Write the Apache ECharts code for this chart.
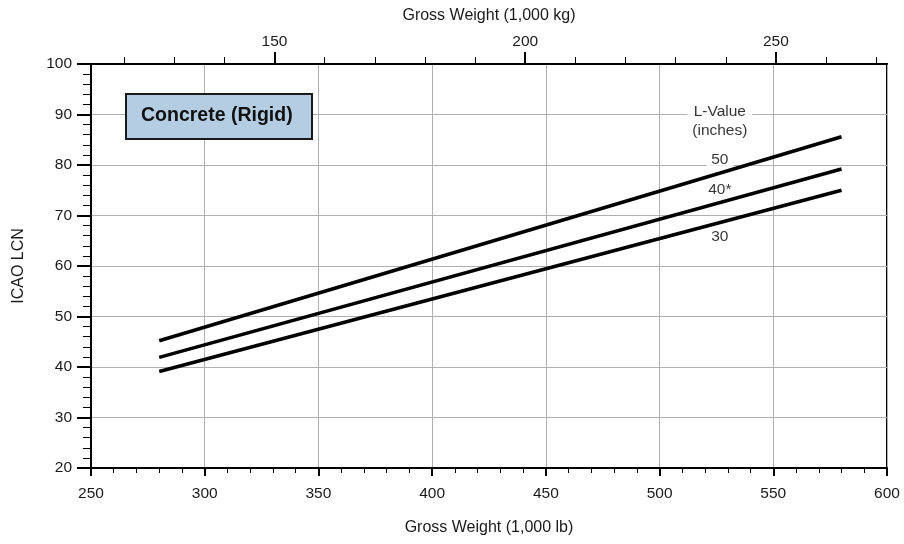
<!DOCTYPE html>
<html>
<head>
<meta charset="utf-8">
<script src="https://cdn.jsdelivr.net/npm/echarts@6/dist/echarts.min.js"></script>
<style>html,body{margin:0;padding:0;background:#fff}#c{width:904px;height:544px}</style>
</head>
<body>
<div id="c"></div>
<script>
// Data (gross weight in 1,000 lb, ICAO LCN)
const weightLb = [280, 580];
const lcn50 = [45.2, 85.6];
const lcn40 = [41.9, 79.2];
const lcn30 = [39.1, 75.0];
const LB_TO_KG = 0.45359237;
const xMinLb = 250, xMaxLb = 600;
const topMajorKg = [150, 200, 250];
const topMinorKg = [120, 130, 140, 160, 170, 180, 190, 210, 220, 230, 240, 260, 270];
const lineLabels = [
  { name: 'L-Value\n(inches)', x: 526.5, y: 88.7 },
  { name: '50', x: 526.5, y: 81.0 },
  { name: '40*', x: 526.5, y: 75.2 },
  { name: '30', x: 526.5, y: 65.8 }
];
const titleText = 'Concrete (Rigid)';

const FONT = '"Liberation Sans", Arial, sans-serif';
const TXT = '#1a1a1a';
const chart = echarts.init(document.getElementById('c'), null, { renderer: 'canvas' });

function lineData(vals) { return weightLb.map((w, i) => [w, vals[i]]); }
const lineStyle = { color: '#000', width: 3.5 };

chart.setOption({
  backgroundColor: '#fff',
  animation: false,
  textStyle: { fontFamily: FONT },
  grid: { left: 91, right: 17, top: 64, bottom: 76, show: true, borderColor: '#000', borderWidth: 2, backgroundColor: 'transparent' },
  xAxis: [
    {
      type: 'value', position: 'bottom', min: xMinLb, max: xMaxLb, interval: 50,
      name: 'Gross Weight (1,000 lb)', nameLocation: 'middle', nameGap: 52,
      nameTextStyle: { fontSize: 16, color: TXT, fontFamily: FONT },
      axisLine: { show: true, lineStyle: { color: '#000', width: 2 } },
      axisTick: { show: true, length: 8, lineStyle: { color: '#000', width: 2 } },
      minorTick: { show: true, splitNumber: 5, length: 5, lineStyle: { color: '#000', width: 1 } },
      axisLabel: { color: TXT, fontSize: 15.5, margin: 18, fontFamily: FONT },
      splitLine: { show: true, lineStyle: { color: '#b0b0b0', width: 1 } }
    },
    {
      type: 'value', position: 'top', min: xMinLb * LB_TO_KG, max: xMaxLb * LB_TO_KG,
      name: 'Gross Weight (1,000 kg)', nameLocation: 'middle', nameGap: 40,
      nameTextStyle: { fontSize: 16, color: TXT, fontFamily: FONT },
      axisLine: { show: true, lineStyle: { color: '#000', width: 2 } },
      axisTick: { show: true, length: 12, customValues: topMajorKg, lineStyle: { color: '#000', width: 2 } },
      axisLabel: { color: TXT, fontSize: 15.5, margin: 14, fontFamily: FONT, customValues: topMajorKg },
      splitLine: { show: false }
    },
    {
      type: 'value', position: 'top', min: xMinLb * LB_TO_KG, max: xMaxLb * LB_TO_KG,
      axisLine: { show: false },
      axisTick: { show: true, length: 7, customValues: topMinorKg, lineStyle: { color: '#000', width: 1 } },
      axisLabel: { show: false },
      splitLine: { show: false }
    }
  ],
  yAxis: [
    {
      type: 'value', min: 20, max: 100, interval: 10,
      name: 'ICAO LCN', nameLocation: 'middle', nameGap: 64, nameRotate: 90,
      nameTextStyle: { fontSize: 16, color: TXT, fontFamily: FONT },
      axisLine: { show: true, lineStyle: { color: '#000', width: 2 } },
      axisTick: { show: true, length: 14, lineStyle: { color: '#000', width: 2 } },
      minorTick: { show: true, splitNumber: 5, length: 8, lineStyle: { color: '#000', width: 1 } },
      axisLabel: { color: TXT, fontSize: 15.5, margin: 19, fontFamily: FONT },
      splitLine: { show: true, lineStyle: { color: '#b0b0b0', width: 1 } }
    }
  ],
  series: [
    {
      type: 'scatter', symbolSize: 0, z: 3, silent: true,
      data: lineLabels.map(d => ({ name: d.name, value: [d.x, d.y] })),
      label: {
        show: true, position: 'inside', formatter: p => p.name,
        color: '#000', fontSize: 15.5, fontFamily: FONT, lineHeight: 19,
        backgroundColor: '#fff', padding: [0, 5]
      }
    },
    { type: 'line', name: '50', data: lineData(lcn50), symbol: 'none', lineStyle, z: 10 },
    { type: 'line', name: '40', data: lineData(lcn40), symbol: 'none', lineStyle, z: 10 },
    { type: 'line', name: '30', data: lineData(lcn30), symbol: 'none', lineStyle, z: 10 }
  ],
  graphic: [
    { type: 'rect', left: 125, top: 93, z: 100, shape: { x: 0, y: 0, width: 186, height: 45 }, style: { fill: '#b4cde3', stroke: '#1a1a1a', lineWidth: 2 } },
    { type: 'text', left: 141, top: 106, z: 101, style: { text: titleText, fill: '#111', font: 'bold 19.5px ' + FONT } }
  ]
});
</script>
</body>
</html>
